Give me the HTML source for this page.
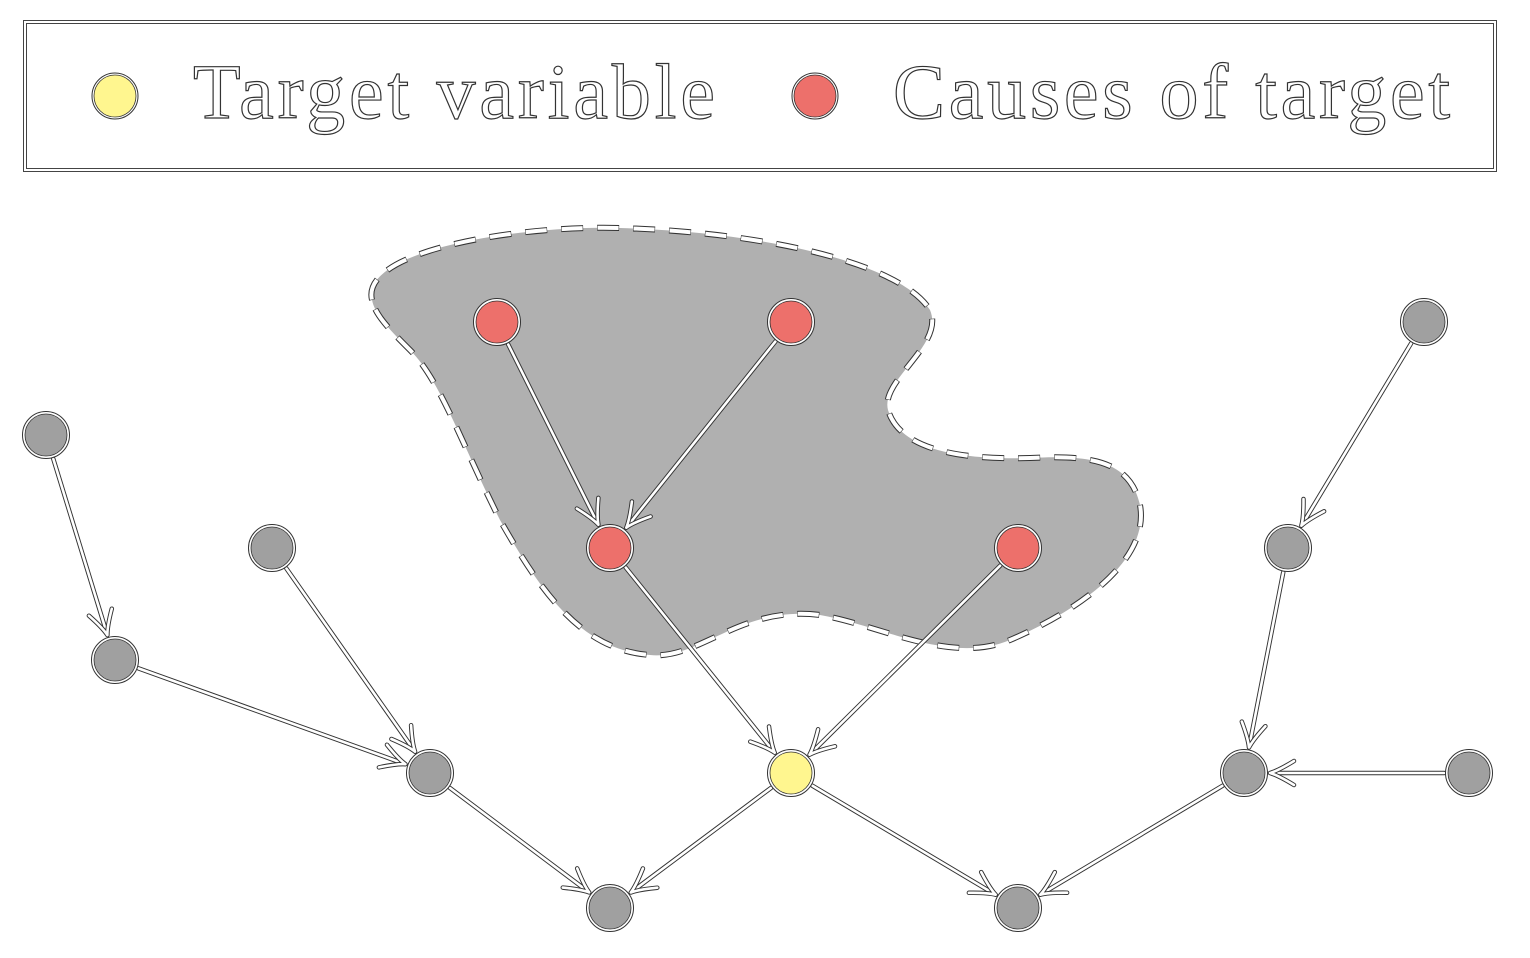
<!DOCTYPE html>
<html><head><meta charset="utf-8"><style>
body{margin:0;background:#fff}
svg{display:block}
.txt{font-family:"Liberation Serif",serif;font-size:78px;fill:#fff;stroke:#333;stroke-width:1.2}
</style></head><body>
<svg id="s" width="1530" height="958" viewBox="0 0 1530 958" xmlns="http://www.w3.org/2000/svg">
<rect x="25" y="22" width="1470" height="148" fill="none" stroke="#444" stroke-width="4"/>
<rect x="25" y="22" width="1470" height="148" fill="none" stroke="#fff" stroke-width="2"/>
<circle cx="115" cy="96" r="23" fill="#fff" stroke="#333" stroke-width="1"/>
<circle cx="115" cy="96" r="21" fill="#fff68f" stroke="#333" stroke-width="0.8"/>
<text class="txt" x="193" y="118" textLength="522">Target variable</text>
<circle cx="815" cy="96" r="23" fill="#fff" stroke="#333" stroke-width="1"/>
<circle cx="815" cy="96" r="21" fill="#ed706b" stroke="#333" stroke-width="0.8"/>
<text class="txt" x="893" y="118" textLength="557">Causes of target</text>
<path id="blob" d="M372,300 C360,250 520,225 620,228 C760,232 900,262 930,310 C945,345 880,380 888,410 C900,450 960,460 1030,458 C1090,455 1130,460 1140,505 C1150,560 1080,610 1010,640 C950,665 880,625 820,615 C740,605 700,660 650,655 C580,650 540,590 500,520 C460,440 440,380 410,350 C390,330 375,315 372,300 Z" fill="#b0b0b0"/>
<path d="M372,300 C360,250 520,225 620,228 C760,232 900,262 930,310 C945,345 880,380 888,410 C900,450 960,460 1030,458 C1090,455 1130,460 1140,505 C1150,560 1080,610 1010,640 C950,665 880,625 820,615 C740,605 700,660 650,655 C580,650 540,590 500,520 C460,440 440,380 410,350 C390,330 375,315 372,300 Z" fill="none" stroke="#333" stroke-width="6" stroke-dasharray="22 14"/>
<path d="M372,300 C360,250 520,225 620,228 C760,232 900,262 930,310 C945,345 880,380 888,410 C900,450 960,460 1030,458 C1090,455 1130,460 1140,505 C1150,560 1080,610 1010,640 C950,665 880,625 820,615 C740,605 700,660 650,655 C580,650 540,590 500,520 C460,440 440,380 410,350 C390,330 375,315 372,300 Z" fill="none" stroke="#fff" stroke-width="4" stroke-dasharray="21 15" stroke-dashoffset="-0.5"/>
<g id="edges"></g><g id="nodes"></g>
</svg>
<script>
const N={r1:[497,322,'#ed706b'],r2:[791,322,'#ed706b'],r3:[610,548,'#ed706b'],r4:[1018,548,'#ed706b'],y:[791,773,'#fff68f'],
g1:[1424,322],g2:[46,435],g3:[272,548],g4:[1288,548],g5:[115,660],g6:[430,773],g7:[1244,773],g8:[1469,773],g9:[610,908],g10:[1018,908]};
const E=[['r1','r3'],['r2','r3'],['r3','y'],['r4','y'],['g2','g5'],['g5','g6'],['g3','g6'],['g6','g9'],['y','g9'],['y','g10'],['g7','g10'],['g4','g7'],['g8','g7'],['g1','g4']];
let ed='',nd='';
const R=22;
function dbl(d){return `<path d="${d}" fill="none" stroke="#333" stroke-width="4.5" stroke-linecap="round" stroke-linejoin="round"/><path d="${d}" fill="none" stroke="#fff" stroke-width="2.6" stroke-linecap="round" stroke-linejoin="round"/>`}
for(const [a,b] of E){const A=N[a],B=N[b];let dx=B[0]-A[0],dy=B[1]-A[1],l=Math.hypot(dx,dy);dx/=l;dy/=l;
const sx=A[0]+dx*(R+3),sy=A[1]+dy*(R+3),tx=B[0]-dx*(R+4),ty=B[1]-dy*(R+4);
const nx=-dy,ny=dx,L=24,W=12;
const f=(p,q)=>(p).toFixed(1)+','+(q).toFixed(1);
const w1=f(tx-dx*L+nx*W,ty-dy*L+ny*W),w2=f(tx-dx*L-nx*W,ty-dy*L-ny*W);
const c1=f(tx-dx*L*0.35+nx*W*0.2,ty-dy*L*0.35+ny*W*0.2),c2=f(tx-dx*L*0.35-nx*W*0.2,ty-dy*L*0.35-ny*W*0.2);
ed+=dbl(`M${f(sx,sy)} L${f(tx-dx*3,ty-dy*3)}`)+dbl(`M${w1} Q${c1} ${f(tx,ty)} Q${c2} ${w2}`);}
for(const k in N){const n=N[k];nd+=`<circle cx="${n[0]}" cy="${n[1]}" r="23.5" fill="#fff" stroke="#333" stroke-width="1"/><circle cx="${n[0]}" cy="${n[1]}" r="21" fill="${n[2]||'#a0a0a0'}" stroke="#333" stroke-width="0.8"/>`;}
document.getElementById('edges').innerHTML=ed;document.getElementById('nodes').innerHTML=nd;
</script>
</body></html>
